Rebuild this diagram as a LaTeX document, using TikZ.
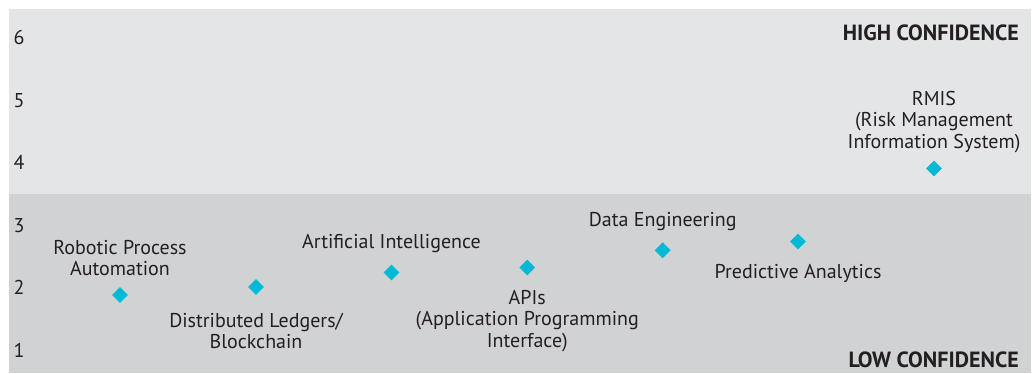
\documentclass[tikz,border=0pt]{standalone}
\usepackage{fontspec}
\setmainfont{PT Sans}
\usetikzlibrary{shapes.geometric}
\definecolor{hiband}{HTML}{E4E5E7}
\definecolor{loband}{HTML}{D1D2D4}
\definecolor{marker}{HTML}{00BAD5}
\definecolor{ink}{HTML}{231F20}
\tikzset{
  tech/.style={diamond, fill=marker, inner sep=0pt, minimum size=16pt},
  techlabel/.style={align=center, inner sep=0pt, text=ink, font=\fontsize{20}{21.5}\selectfont},
  ticklabel/.style={inner sep=0pt, text=ink, font=\fontsize{20}{21.5}\selectfont},
  bandlabel/.style={anchor=east, inner sep=0pt, text=ink, font=\fontsize{22}{24}\selectfont\bfseries}
}
\begin{document}
\begin{tikzpicture}[x=1pt,y=-1pt]
        \useasboundingbox (0,0) rectangle (1032,374);
        %% bands
        \fill[hiband] (9,9) rectangle (1031,194);
        \fill[loband] (9,194) rectangle (1031,373);
        \node[bandlabel] (high) at (1019,32.5) {HIGH CONFIDENCE};
        \node[bandlabel] (low) at (1019,359.5) {LOW CONFIDENCE};
        %% scale
        \foreach \v in {1,...,6}
          \node[ticklabel] (tick\v) at (19,{350-62.4*(\v-1)}) {\v};
        %% technologies
        \node[tech] (rpa) at (120,295) {};
        \node[techlabel] (rpalabel) at (120,258) {Robotic Process\\Automation};
        \node[tech] (dlt) at (256,287) {};
        \node[techlabel] (dltlabel) at (256,331) {Distributed Ledgers/\\Blockchain};
        \node[tech] (ai) at (391.5,272.5) {};
        \node[techlabel] (ailabel) at (391.5,244) {Artificial Intelligence};
        \node[tech] (api) at (527.3,267.5) {};
        \node[techlabel] (apilabel) at (527.3,321) {APIs\\(Application Programming\\Interface)};
        \node[tech] (de) at (662.7,250.3) {};
        \node[techlabel] (delabel) at (662.7,222) {Data Engineering};
        \node[tech] (pa) at (798,241.5) {};
        \node[techlabel] (palabel) at (798,273) {Predictive Analytics};
        \node[tech] (rmis) at (934,168.5) {};
        \node[techlabel] (rmislabel) at (934,122) {RMIS\\(Risk Management\\Information System)};
    \end{tikzpicture}
\end{document}
